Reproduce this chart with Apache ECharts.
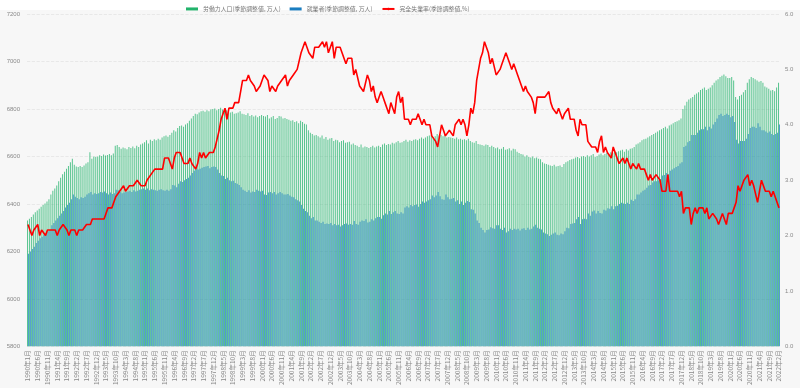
<!DOCTYPE html>
<html>
<head>
<meta charset="utf-8">
<script src="https://cdn.jsdelivr.net/npm/echarts@6/dist/echarts.min.js"></script>
<style>
html,body{margin:0;padding:0;background:#fff;}
#c{width:800px;height:388px;}
</style>
</head>
<body>
<div id="c"></div>
<script>
// Monthly data: 1990-01 .. 2022-02
const startYear = 1990, startMonth = 1, monthCount = 386;
const seriesNames = ['労働力人口(季節調整値, 万人)', '就業者(季節調整値, 万人)', '完全失業率(季節調整値,%)'];

const laborForce = [
6330,6338,6345,6355,6365,6372,6380,6388,6395,6402,6410,6420,
6440,6455,6465,6478,6495,6510,6525,6535,6548,6560,6575,6590,
6565,6558,6555,6560,6556,6562,6570,6575,6618,6590,6600,6598,
6600,6605,6602,6608,6604,6606,6610,6605,6612,6645,6648,6640,
6632,6638,6635,6630,6640,6636,6642,6634,6645,6640,6650,6655,
6660,6668,6655,6670,6665,6672,6668,6675,6670,6680,6685,6688,
6683,6690,6700,6710,6705,6720,6728,6730,6725,6735,6740,6750,
6760,6770,6780,6778,6785,6790,6792,6788,6795,6790,6798,6800,
6802,6795,6800,6805,6798,6792,6795,6790,6785,6788,6780,6782,
6785,6790,6780,6778,6775,6782,6770,6775,6768,6772,6765,6770,
6775,6770,6768,6775,6760,6765,6770,6758,6762,6770,6768,6760,
6762,6758,6755,6750,6752,6745,6748,6740,6750,6745,6738,6735,
6710,6700,6695,6688,6690,6685,6680,6688,6675,6682,6670,6676,
6678,6665,6670,6668,6660,6665,6668,6658,6660,6662,6650,6655,
6648,6645,6640,6650,6638,6642,6640,6636,6640,6645,6638,6642,
6645,6640,6650,6655,6648,6652,6650,6658,6655,6660,6665,6658,
6660,6665,6670,6662,6668,6665,6670,6672,6668,6675,6680,6675,
6680,6685,6688,6690,6682,6685,6695,6688,6690,6685,6692,6680,
6682,6680,6678,6675,6680,6672,6675,6670,6672,6668,6675,6665,
6660,6658,6665,6652,6650,6648,6645,6650,6648,6640,6645,6640,
6635,6638,6630,6632,6640,6628,6630,6635,6625,6632,6630,6620,
6615,6610,6608,6600,6605,6598,6595,6600,6592,6595,6590,6588,
6575,6570,6568,6565,6562,6560,6565,6558,6560,6562,6555,6568,
6575,6580,6585,6588,6590,6595,6598,6592,6600,6602,6598,6605,
6600,6605,6610,6598,6602,6608,6612,6605,6610,6615,6608,6618,
6615,6620,6618,6622,6625,6628,6620,6630,6625,6632,6635,6640,
6650,6655,6660,6668,6672,6675,6680,6685,6690,6695,6700,6705,
6710,6715,6720,6725,6718,6730,6735,6740,6745,6748,6752,6760,
6800,6815,6830,6840,6845,6850,6860,6865,6870,6880,6885,6890,
6880,6885,6890,6900,6910,6920,6925,6935,6940,6945,6938,6930,
6930,6935,6920,6850,6840,6855,6860,6870,6880,6910,6925,6935,
6930,6925,6920,6915,6918,6910,6895,6890,6885,6878,6880,6875,
6890,6910
];

const employed = [
6190,6200,6210,6220,6235,6245,6255,6262,6270,6278,6285,6290,
6310,6320,6330,6340,6350,6360,6370,6385,6395,6405,6420,6440,
6430,6425,6420,6428,6425,6430,6440,6445,6450,6440,6445,6442,
6445,6450,6448,6452,6445,6440,6448,6442,6445,6460,6458,6450,
6445,6448,6450,6452,6455,6450,6458,6452,6455,6460,6462,6465,
6460,6465,6458,6462,6460,6458,6455,6460,6462,6458,6455,6460,
6455,6462,6480,6478,6470,6485,6495,6492,6500,6505,6510,6520,
6530,6540,6550,6545,6548,6552,6555,6558,6560,6550,6555,6558,
6555,6545,6530,6520,6518,6505,6510,6500,6495,6498,6488,6485,
6480,6470,6460,6455,6450,6458,6448,6452,6450,6460,6455,6452,
6455,6440,6438,6448,6450,6445,6450,6440,6445,6450,6445,6440,
6440,6442,6435,6430,6428,6420,6415,6410,6395,6380,6370,6365,
6350,6340,6345,6330,6330,6325,6320,6325,6315,6318,6315,6320,
6310,6315,6310,6312,6305,6310,6315,6318,6312,6315,6312,6328,
6315,6312,6325,6330,6328,6335,6322,6325,6335,6330,6340,6345,
6345,6338,6352,6360,6355,6370,6358,6365,6370,6360,6358,6365,
6360,6385,6390,6385,6395,6390,6395,6398,6388,6400,6410,6405,
6410,6415,6420,6435,6428,6435,6450,6432,6420,6418,6440,6428,
6420,6422,6425,6410,6415,6400,6410,6395,6405,6412,6408,6378,
6375,6360,6330,6320,6300,6290,6280,6290,6292,6302,6298,6295,
6310,6310,6295,6290,6300,6280,6285,6295,6290,6295,6292,6295,
6288,6295,6298,6290,6300,6292,6295,6305,6312,6300,6295,6292,
6280,6275,6272,6265,6270,6275,6280,6270,6268,6275,6272,6285,
6300,6298,6315,6318,6320,6335,6345,6315,6335,6338,6335,6360,
6350,6368,6372,6360,6370,6362,6360,6375,6372,6382,6380,6390,
6378,6390,6392,6400,6405,6402,6400,6405,6400,6418,6412,6420,
6440,6440,6448,6455,6460,6468,6478,6480,6490,6495,6495,6500,
6505,6520,6522,6530,6525,6540,6545,6550,6555,6560,6570,6575,
6640,6645,6660,6665,6690,6690,6690,6700,6710,6715,6715,6725,
6710,6725,6718,6735,6745,6760,6775,6780,6770,6775,6780,6775,
6765,6770,6745,6670,6655,6665,6665,6665,6675,6695,6720,6725,
6725,6720,6740,6725,6710,6710,6705,6700,6705,6695,6690,6695,
6700,6735
];

const unemploymentRate = [
2.2,2.1,2.0,2.1,2.1,2.2,2.0,2.1,2.1,2.0,2.1,2.1,
2.1,2.1,2.1,2.0,2.1,2.1,2.2,2.2,2.1,2.0,2.1,2.1,
2.1,2.0,2.1,2.1,2.1,2.1,2.2,2.2,2.2,2.3,2.3,2.3,
2.3,2.3,2.3,2.3,2.4,2.5,2.5,2.5,2.6,2.7,2.7,2.8,
2.8,2.9,2.8,2.8,2.9,2.9,2.9,2.9,3.0,3.0,2.9,2.9,
2.9,3.0,3.0,3.1,3.1,3.2,3.2,3.2,3.2,3.2,3.4,3.4,
3.4,3.4,3.2,3.4,3.5,3.5,3.5,3.4,3.3,3.3,3.3,3.4,
3.3,3.3,3.2,3.3,3.5,3.4,3.5,3.4,3.4,3.5,3.5,3.5,
3.6,3.6,3.9,4.1,4.1,4.3,4.1,4.3,4.3,4.3,4.4,4.4,
4.4,4.6,4.8,4.8,4.8,4.9,4.8,4.8,4.7,4.6,4.6,4.7,
4.7,4.9,4.9,4.8,4.6,4.7,4.7,4.6,4.7,4.7,4.8,4.8,
4.9,4.7,4.8,4.8,4.9,4.9,5.0,5.0,5.3,5.4,5.5,5.4,
5.3,5.3,5.2,5.4,5.4,5.4,5.4,5.5,5.4,5.5,5.3,5.4,
5.5,5.2,5.4,5.4,5.4,5.3,5.3,5.1,5.2,5.2,5.2,4.9,
5.0,5.0,4.7,4.7,4.6,4.6,4.9,4.8,4.6,4.7,4.5,4.4,
4.5,4.6,4.5,4.4,4.4,4.2,4.4,4.3,4.2,4.5,4.6,4.4,
4.5,4.1,4.1,4.1,4.0,4.1,4.1,4.1,4.2,4.1,4.0,4.1,
4.0,4.0,4.0,3.8,3.8,3.7,3.6,3.8,4.0,4.0,3.8,3.8,
3.9,3.9,3.8,4.0,4.0,4.1,4.0,4.1,4.0,3.8,4.0,4.3,
4.2,4.4,4.8,5.0,5.2,5.3,5.5,5.4,5.3,5.1,5.2,5.2,
4.9,4.9,5.0,5.1,5.1,5.3,5.2,5.1,5.0,5.1,5.1,4.9,
4.9,4.7,4.6,4.7,4.6,4.6,4.5,4.4,4.2,4.5,4.5,4.5,
4.5,4.5,4.5,4.6,4.4,4.3,4.3,4.2,4.3,4.2,4.1,4.2,
4.2,4.3,4.1,4.1,4.1,3.9,3.8,4.1,4.0,4.0,4.0,3.7,
3.7,3.6,3.6,3.6,3.5,3.7,3.8,3.5,3.6,3.5,3.5,3.4,
3.6,3.5,3.4,3.3,3.3,3.4,3.3,3.4,3.4,3.2,3.3,3.3,
3.2,3.3,3.2,3.2,3.2,3.1,3.0,3.1,3.0,3.0,3.1,3.1,
3.0,2.8,2.8,2.8,3.1,2.8,2.8,2.8,2.8,2.8,2.7,2.8,
2.4,2.5,2.5,2.5,2.2,2.4,2.5,2.4,2.5,2.5,2.5,2.4,
2.5,2.3,2.3,2.4,2.4,2.3,2.2,2.3,2.4,2.4,2.2,2.4,
2.4,2.4,2.5,2.6,2.9,2.8,2.9,3.0,3.0,3.1,2.9,3.0,
2.9,2.9,2.6,2.8,3.0,2.9,2.8,2.8,2.8,2.7,2.8,2.7,
2.7,2.5
];

const leftTicks = {min: 5800, max: 7200, interval: 200};
const rightTicks = {min: 0, max: 6, interval: 1};

const categories = [];
for (let i = 0; i < monthCount; i++) {
  const m = startMonth - 1 + i;
  categories.push((startYear + Math.floor(m / 12)) + '年' + (m % 12 + 1) + '月');
}

const chart = echarts.init(document.getElementById('c'), null, {renderer: 'canvas'});
const labelColor = '#8a8a8a';
chart.setOption({
  backgroundColor: '#f7f7f7',
  animation: false,
  graphic: [{type: 'rect', left: 0, top: 0, shape: {width: 800, height: 10}, style: {fill: '#ffffff'}, z: -1}],
  legend: {
    top: 1, left: 181,
    itemWidth: 12, itemHeight: 3, itemGap: 9,
    itemStyle: {opacity: 1},
    textStyle: {fontSize: 5.9, color: '#777', fontFamily: 'Noto Sans CJK JP'},
    data: [
      {name: seriesNames[0], icon: 'rect'},
      {name: seriesNames[1], icon: 'rect'},
      {name: seriesNames[2]}
    ]
  },
  grid: {left: 27, right: 20, top: 14, bottom: 38, containLabel: false},
  xAxis: {
    type: 'category', data: categories,
    axisLine: {show: false}, axisTick: {show: false},
    axisLabel: {interval: 4, rotate: 90, fontSize: 6.5, color: labelColor, margin: 4, fontFamily: 'Noto Sans CJK JP'}
  },
  yAxis: [
    {type: 'value', min: leftTicks.min, max: leftTicks.max, interval: leftTicks.interval,
     axisLine: {show: false}, axisTick: {show: false},
     axisLabel: {fontSize: 6, color: labelColor, margin: 7, formatter: v => String(v)},
     splitLine: {lineStyle: {color: '#e3e3e3', type: 'dashed', width: 0.8}}},
    {type: 'value', min: rightTicks.min, max: rightTicks.max, interval: rightTicks.interval,
     axisLine: {show: false}, axisTick: {show: false},
     axisLabel: {fontSize: 6, color: labelColor, margin: 5, formatter: v => v.toFixed(1)},
     splitLine: {show: false}}
  ],
  series: [
    {name: seriesNames[0], type: 'bar', data: laborForce, itemStyle: {color: '#22b36b', opacity: 0.75}, barGap: '0%', barCategoryGap: '0%'},
    {name: seriesNames[1], type: 'bar', data: employed, itemStyle: {color: '#1a7dc0', opacity: 0.75}},
    {name: seriesNames[2], type: 'line', yAxisIndex: 1, data: unemploymentRate, symbol: 'none',
     lineStyle: {color: '#ff0000', width: 1.6}, itemStyle: {color: '#ff0000'}, z: 5}
  ]
});
</script>
</body>
</html>
